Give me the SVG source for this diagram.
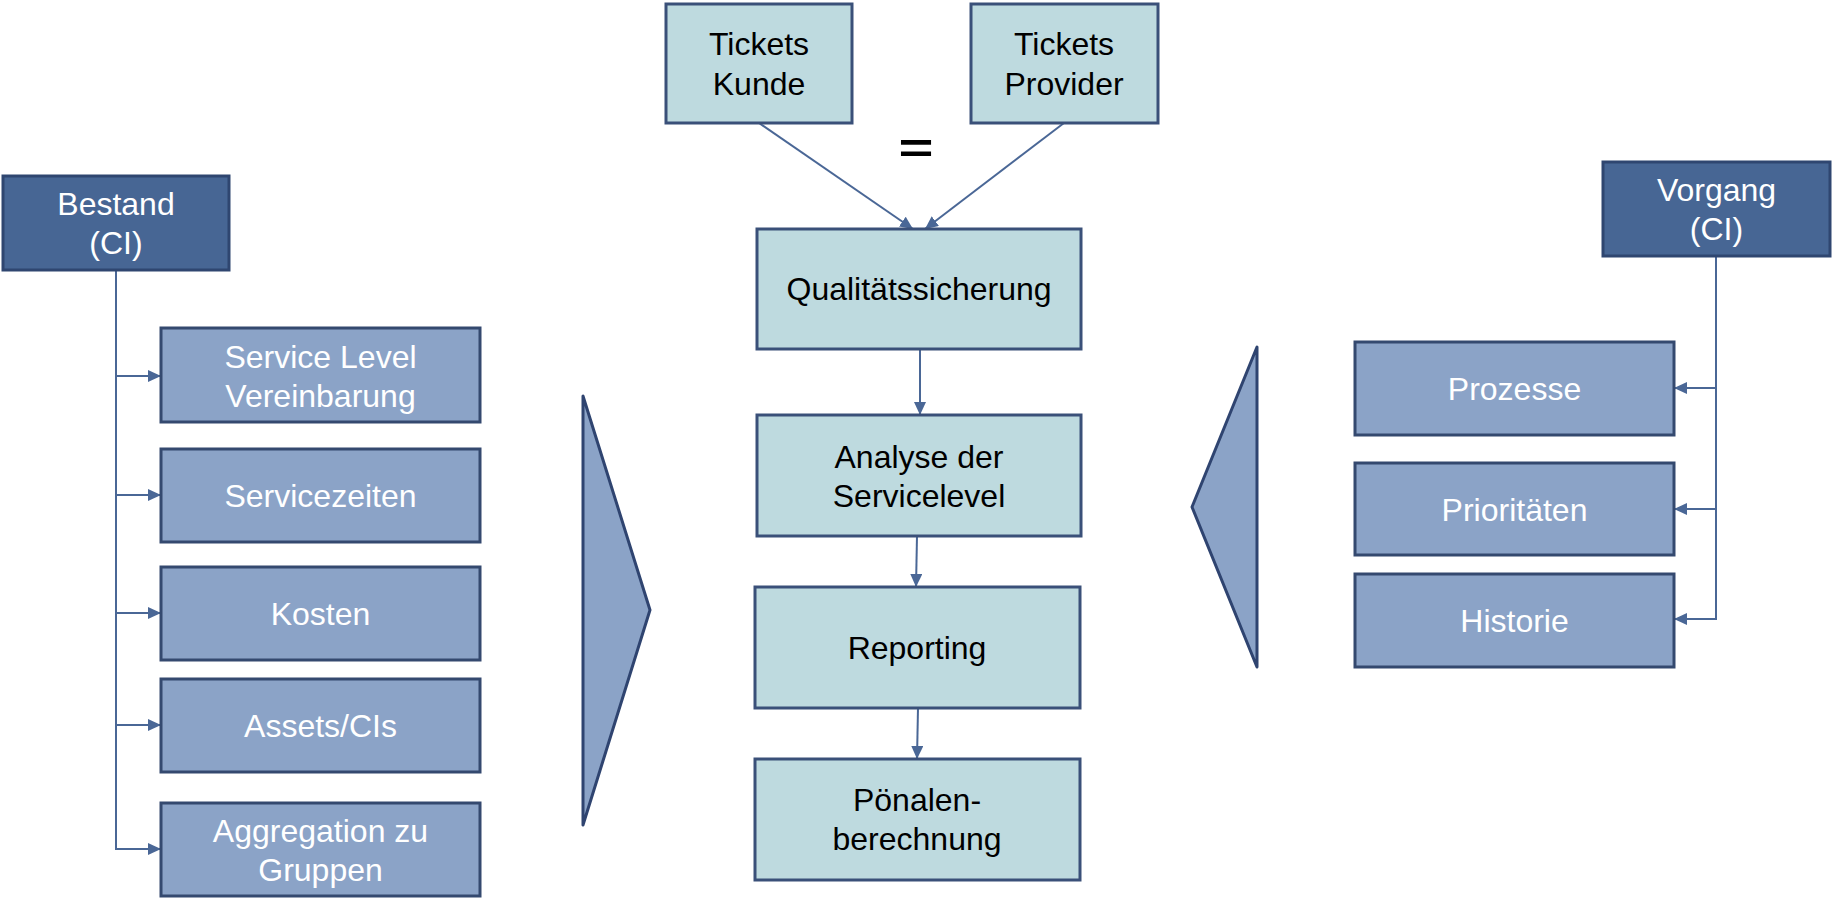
<svg xmlns="http://www.w3.org/2000/svg" width="1832" height="901" viewBox="0 0 1832 901">
<defs>
<marker id="ah" viewBox="0 0 13 12" refX="13" refY="6" markerWidth="13" markerHeight="12" markerUnits="userSpaceOnUse" orient="auto">
<path d="M0,0 L13,6 L0,12 z" fill="#4A6796"/>
</marker>
</defs>
<style>
text{font-family:"Liberation Sans",Arial,sans-serif;font-size:32px;text-anchor:middle}
.dk rect{fill:#476694;stroke:#2F4670;stroke-width:3}
.lt rect{fill:#8BA3C7;stroke:#34496F;stroke-width:3}
.cy rect{fill:#BEDADF;stroke:#3A5079;stroke-width:3}
.dk text,.lt text{fill:#fff}
.cy text{fill:#000}
.tri{fill:#8BA3C7;stroke:#2F4470;stroke-width:3;stroke-linejoin:round}
#connectors line,#connectors polyline{stroke:#4A6796;stroke-width:2;fill:none}
</style>
<rect width="1832" height="901" fill="#fff"/>

<polygon class="tri" points="583,396 650,610 583,825"/>
<polygon class="tri" points="1257,347 1192,507 1257,667"/>

<g id="connectors">
<polyline points="116,270 116,849 161,849" marker-end="url(#ah)"/>
<line x1="116" y1="376" x2="161" y2="376" marker-end="url(#ah)"/>
<line x1="116" y1="495" x2="161" y2="495" marker-end="url(#ah)"/>
<line x1="116" y1="613" x2="161" y2="613" marker-end="url(#ah)"/>
<line x1="116" y1="725" x2="161" y2="725" marker-end="url(#ah)"/>
<polyline points="1716,256 1716,619 1674,619" marker-end="url(#ah)"/>
<line x1="1716" y1="388" x2="1674" y2="388" marker-end="url(#ah)"/>
<line x1="1716" y1="509" x2="1674" y2="509" marker-end="url(#ah)"/>
<line x1="759" y1="123" x2="913" y2="229" marker-end="url(#ah)"/>
<line x1="1064" y1="123" x2="925" y2="229" marker-end="url(#ah)"/>
<line x1="920" y1="349" x2="920" y2="415" marker-end="url(#ah)"/>
<line x1="917" y1="536" x2="916" y2="587" marker-end="url(#ah)"/>
<line x1="918" y1="708" x2="917" y2="759" marker-end="url(#ah)"/>
</g>

<g id="bestand" class="dk"><rect x="3" y="176" width="226" height="94"/><text x="116" y="215">Bestand</text><text x="116" y="254">(CI)</text></g>
<g id="slv" class="lt"><rect x="161" y="328" width="319" height="94"/><text x="320.5" y="368">Service Level</text><text x="320.5" y="407">Vereinbarung</text></g>
<g id="servicezeiten" class="lt"><rect x="161" y="449" width="319" height="93"/><text x="320.5" y="507">Servicezeiten</text></g>
<g id="kosten" class="lt"><rect x="161" y="567" width="319" height="93"/><text x="320.5" y="625">Kosten</text></g>
<g id="assets" class="lt"><rect x="161" y="679" width="319" height="93"/><text x="320.5" y="737">Assets/CIs</text></g>
<g id="aggregation" class="lt"><rect x="161" y="803" width="319" height="93"/><text x="320.5" y="842">Aggregation zu</text><text x="320.5" y="881">Gruppen</text></g>

<g id="kunde" class="cy"><rect x="666" y="4" width="186" height="119"/><text x="759" y="55">Tickets</text><text x="759" y="95">Kunde</text></g>
<g id="provider" class="cy"><rect x="971" y="4" width="187" height="119"/><text x="1064" y="55">Tickets</text><text x="1064" y="95">Provider</text></g>
<text x="916" y="162" style="font-size:60px;font-weight:bold" transform="translate(0,50) scale(1,0.7)">=</text>
<g id="qs" class="cy"><rect x="757" y="229" width="324" height="120"/><text x="919" y="300">Qualitätssicherung</text></g>
<g id="analyse" class="cy"><rect x="757" y="415" width="324" height="121"/><text x="919" y="468">Analyse der</text><text x="919" y="507">Servicelevel</text></g>
<g id="reporting" class="cy"><rect x="755" y="587" width="325" height="121"/><text x="917" y="659">Reporting</text></g>
<g id="poenalen" class="cy"><rect x="755" y="759" width="325" height="121"/><text x="917" y="811">Pönalen-</text><text x="917" y="850">berechnung</text></g>

<g id="vorgang" class="dk"><rect x="1603" y="162" width="227" height="94"/><text x="1716.5" y="201">Vorgang</text><text x="1716.5" y="240">(CI)</text></g>
<g id="prozesse" class="lt"><rect x="1355" y="342" width="319" height="93"/><text x="1514.5" y="400">Prozesse</text></g>
<g id="prioritaeten" class="lt"><rect x="1355" y="463" width="319" height="92"/><text x="1514.5" y="521">Prioritäten</text></g>
<g id="historie" class="lt"><rect x="1355" y="574" width="319" height="93"/><text x="1514.5" y="632">Historie</text></g>
</svg>
